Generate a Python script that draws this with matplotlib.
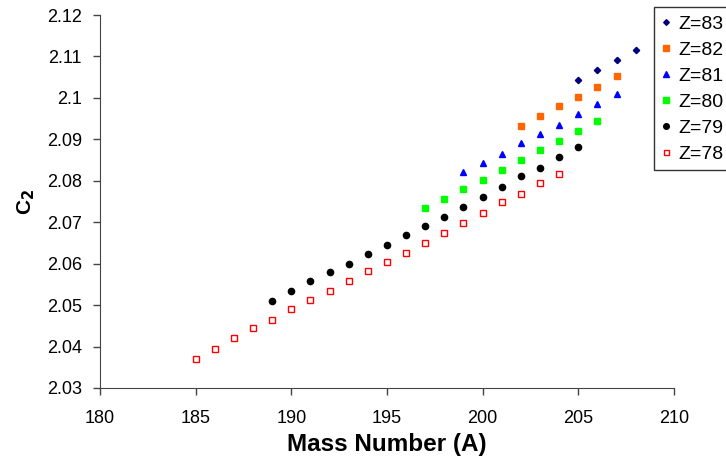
#!/usr/bin/env python3
"""C2 versus mass number A for isotopes of Z=78..83."""
import matplotlib
matplotlib.use("Agg")
import matplotlib.pyplot as plt

plt.rcParams["font.family"] = ["Liberation Sans", "DejaVu Sans"]

# Z=83
A83 = [205, 206, 207, 208]
C83 = [2.1044, 2.1067, 2.1091, 2.1116]
# Z=82
A82 = [202, 203, 204, 205, 206, 207]
C82 = [2.0932, 2.0956, 2.0980, 2.1002, 2.1027, 2.1052]
# Z=81
A81 = [199, 200, 201, 202, 203, 204, 205, 206, 207]
C81 = [2.0821, 2.0843, 2.0865, 2.0890, 2.0914, 2.0935, 2.0961, 2.0985, 2.1009]
# Z=80
A80 = [197, 198, 199, 200, 201, 202, 203, 204, 205, 206]
C80 = [2.0734, 2.0756, 2.0780, 2.0802, 2.0826, 2.0850, 2.0874, 2.0897, 2.0921, 2.0945]
# Z=79
A79 = [189, 190, 191, 192, 193, 194, 195, 196, 197, 198, 199, 200, 201, 202,
       203, 204, 205]
C79 = [2.0510, 2.0535, 2.0558, 2.0579, 2.0600, 2.0623, 2.0646, 2.0668, 2.0691,
       2.0713, 2.0737, 2.0762, 2.0786, 2.0811, 2.0832, 2.0858, 2.0881]
# Z=78
A78 = [185, 186, 187, 188, 189, 190, 191, 192, 193, 194, 195, 196, 197, 198,
       199, 200, 201, 202, 203, 204]
C78 = [2.0369, 2.0395, 2.0421, 2.0445, 2.0465, 2.0491, 2.0513, 2.0535, 2.0559,
       2.0582, 2.0603, 2.0625, 2.0649, 2.0673, 2.0699, 2.0723, 2.0748, 2.0768,
       2.0794, 2.0817]

YTICKS = [2.03, 2.04, 2.05, 2.06, 2.07, 2.08, 2.09, 2.10, 2.11, 2.12]
YTICKLABELS = ["2.03", "2.04", "2.05", "2.06", "2.07", "2.08", "2.09",
               "2.1", "2.11", "2.12"]

fig = plt.figure(figsize=(7.26, 4.62), dpi=100)
ax = fig.add_axes([0.1377, 0.1602, 0.7906, 0.8073])

ax.plot(A83, C83, ls="none", marker="D", ms=3.2, color="#000080", label="Z=83")
ax.plot(A82, C82, ls="none", marker="s", ms=4.2, color="#FF6600", label="Z=82")
ax.plot(A81, C81, ls="none", marker="^", ms=4.5, color="#0000FF", label="Z=81")
ax.plot(A80, C80, ls="none", marker="s", ms=4.2, color="#00FF00", label="Z=80")
ax.plot(A79, C79, ls="none", marker="o", ms=4.5, color="black", label="Z=79")
ax.plot(A78, C78, ls="none", marker="s", ms=4.0, mfc="white", mec="#FF0000",
        mew=1.0, label="Z=78")

ax.set_xlim(180, 210)
ax.set_ylim(2.03, 2.12)
ax.set_xticks(range(180, 211, 5))
ax.set_yticks(YTICKS)
ax.set_yticklabels(YTICKLABELS)
ax.tick_params(direction="out", length=5, width=1, labelsize=13, color="#444444")
ax.tick_params(axis="x", pad=11)
ax.tick_params(axis="y", pad=8)
ax.spines["top"].set_visible(False)
ax.spines["right"].set_visible(False)
ax.spines["left"].set_color("#444444")
ax.spines["bottom"].set_color("#444444")

ax.set_xlabel("Mass Number (A)", fontsize=17.5, fontweight="bold", labelpad=4)
ax.set_ylabel("C$_\\mathbf{2}$", fontsize=15, fontweight="bold", labelpad=7)

leg = fig.legend(loc="upper left", bbox_to_anchor=(0.9012, 0.9842),
                 fontsize=14, frameon=True, fancybox=False, edgecolor="black",
                 handlelength=0.4, handletextpad=0.45, borderpad=0.4,
                 labelspacing=0.43, borderaxespad=0, markerscale=0.9)
leg.get_frame().set_linewidth(1.0)

fig.savefig("out.png", dpi=100)
